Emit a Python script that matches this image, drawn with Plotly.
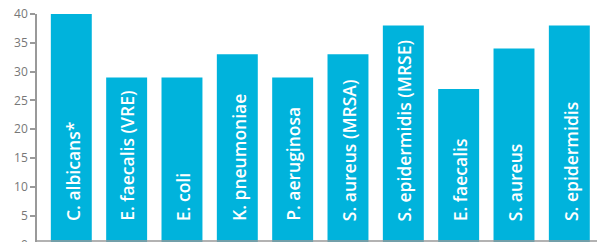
import plotly.graph_objects as go

categories = ["C. albicans*", "E. faecalis (VRE)", "E. coli", "K. pneumoniae", "P. aeruginosa",
              "S. aureus (MRSA)", "S. epidermidis (MRSE)", "E. faecalis", "S. aureus", "S. epidermidis"]
values = [40, 29, 29, 33, 29, 33, 38, 27, 34, 38]
y_ticks = [0, 5, 10, 15, 20, 25, 30, 35, 40]

BAR = "#00B3DC"
GRAY = "#999999"

fig = go.Figure()
fig.add_trace(go.Bar(x=categories, y=values, marker_color=BAR, marker_line_width=0,
                     hoverinfo="skip"))

for c in categories:
    fig.add_annotation(x=c, y=3.7, xref="x", yref="y", text=c, textangle=-90,
                       showarrow=False, xanchor="center", yanchor="bottom", xshift=1,
                       font=dict(family="Open Sans", size=17.5, color="white", weight=600))

# "0" label sits below the visible area edge
fig.add_annotation(x=0, y=-2.5 / 228, xref="paper", yref="paper", text="0",
                   showarrow=False, xanchor="right", yanchor="middle", xshift=-7,
                   font=dict(family="Open Sans", size=12, color="#777777"))

fig.add_shape(type="line", xref="paper", yref="paper", x0=0, x1=1, y0=1 / 228, y1=1 / 228,
              line=dict(color=GRAY, width=1.5))

fig.update_layout(
    width=597, height=242,
    margin=dict(l=37, r=0, t=14, b=0, autoexpand=False),
    plot_bgcolor="white", paper_bgcolor="white",
    bargap=0.26, showlegend=False,
    xaxis=dict(range=[-0.62, 9.5], showticklabels=False, showgrid=False, zeroline=False,
               ticks=""),
    yaxis=dict(range=[0.434, 40], tickvals=y_ticks, showgrid=False, zeroline=False,
               showline=True, linecolor=GRAY, linewidth=1.5, ticks="outside", ticklen=5,
               tickcolor=GRAY, tickwidth=1.5,
               tickfont=dict(family="Open Sans", size=12, color="#777777")),
)

fig.write_html("out.html", config={"displayModeBar": False},
               post_script="document.body.style.margin='0';document.body.style.overflow='hidden';")
